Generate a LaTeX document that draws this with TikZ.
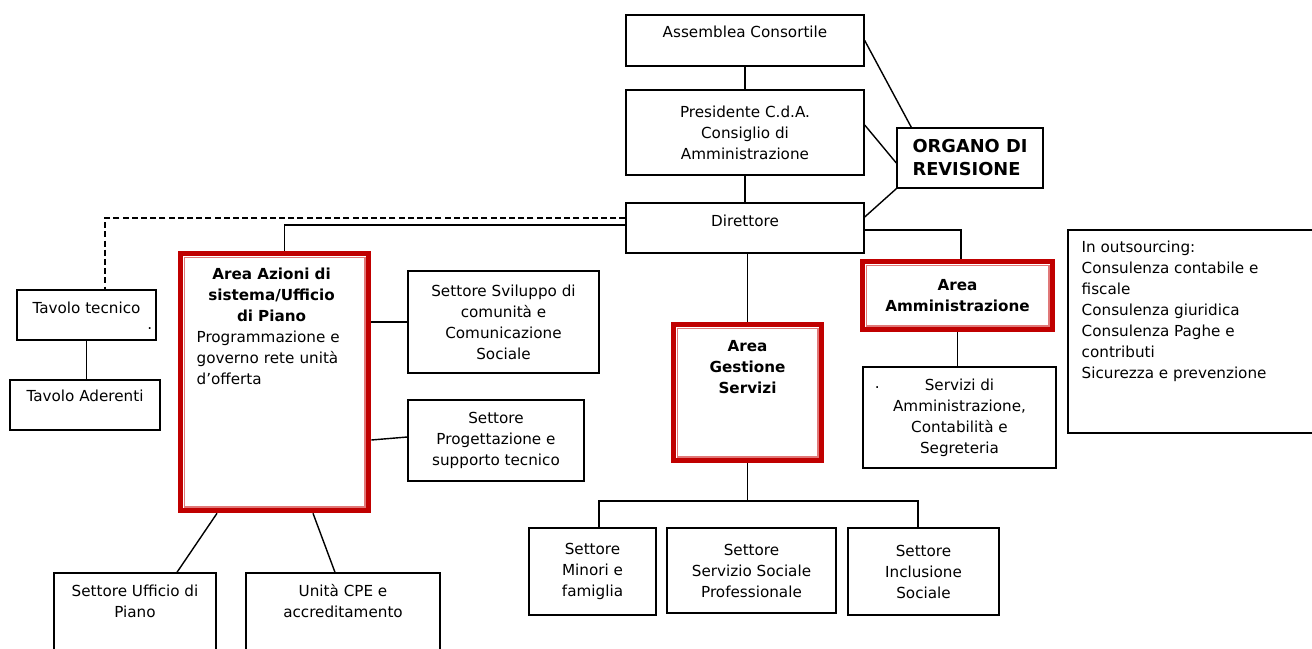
\documentclass[tikz,border=0pt]{standalone}
\usepackage{fontspec}
\setmainfont{DejaVu Sans}
\definecolor{areared}{RGB}{192,0,0}
\definecolor{arealight}{RGB}{225,120,120}
\usetikzlibrary{positioning,backgrounds}

\begin{document}
\begin{tikzpicture}[x=0.5pt,y=-0.5pt,
    box/.style={draw,line width=0.7pt,fill=white,inner sep=0pt,
                font=\fontsize{7.6}{10.5}\selectfont,align=center},
    area/.style={draw=areared,line width=2.8pt,fill=white,inner sep=0pt,
                 font=\fontsize{7.6}{10.5}\selectfont\bfseries,align=center},
    arealine/.style={draw=arealight,line width=0.6pt},
    txt/.style={inner sep=0pt,font=\fontsize{7.6}{10.5}\selectfont,align=center},
    link/.style={line width=0.7pt},
    dashlink/.style={line width=0.7pt,dash pattern=on 3pt off 1.6pt}]
  \useasboundingbox (0,0) rectangle (1312,648);

  \node[box,minimum width=119pt,minimum height=25.5pt] (ass) at (745,40.5) {};
  \node[txt,below=5.5pt of ass.north] (ass-t) {Assemblea Consortile};
  \node[box,minimum width=119pt,minimum height=42.5pt] (pres) at (745,132.5)
    {Presidente C.d.A.\\Consiglio di\\Amministrazione};
  \node[box,minimum width=73pt,minimum height=30pt,align=left,
        font=\fontsize{8.9}{11.5}\selectfont\bfseries] (org) at (970,158) {ORGANO DI\\REVISIONE};
  \node[box,minimum width=119pt,minimum height=25pt] (dir) at (745,228) {};
  \node[txt,below=6pt of dir.north] (dir-t) {Direttore};

  \node[box,minimum width=69.5pt,minimum height=25pt] (tt) at (86.5,315) {};
  \node[txt,below=6pt of tt.north] (tt-t) {Tavolo tecnico};
  \node[txt] (tt-d) at ([shift={(-3.5pt,6pt)}]tt.south east) {.};
  \node[box,minimum width=75pt,minimum height=25pt] (ta) at (85,405) {};
  \node[txt,below=5pt of ta.north] (ta-t) {Tavolo Aderenti};

  \node[area,minimum width=94pt,minimum height=128.5pt] (aa) at (274.5,382) {};
  \node[txt,text width=75pt,align=left,anchor=north west] (aa-t)
    at ([shift={(9.25pt,-8.25pt)}]aa.north west)
    {{\centering\bfseries Area Azioni di\\sistema/Ufficio\\di Piano\par}Programmazione e\\governo rete unità\\d'offerta};
  \node[box,minimum width=95.5pt,minimum height=51pt] (ssv) at (503.5,322)
    {Settore Sviluppo di\\comunità e\\Comunicazione\\Sociale};
  \node[box,minimum width=88pt,minimum height=40.5pt] (spr) at (496,440.5)
    {Settore\\Progettazione e\\supporto tecnico};
  \node[box,minimum width=81pt,minimum height=63.5pt] (suf) at (135,636.5) {};
  \node[txt,below=6pt of suf.north] (suf-t) {Settore Ufficio di\\Piano};
  \node[box,minimum width=97pt,minimum height=63.5pt] (cpe) at (343,636.5) {};
  \node[txt,below=6pt of cpe.north] (cpe-t) {Unità CPE e\\accreditamento};

  \node[area,minimum width=74pt,minimum height=68pt] (ag) at (747.5,392.5) {};
  \node[txt,font=\fontsize{7.6}{10.5}\selectfont\bfseries,below=9.25pt of ag.north] (ag-t)
    {Area\\Gestione\\Servizi};
  \node[box,minimum width=63.5pt,minimum height=43.5pt] (smf) at (592.5,571.5)
    {Settore\\Minori e\\famiglia};
  \node[box,minimum width=84.5pt,minimum height=42.5pt] (sss) at (751.5,570.5)
    {Settore\\Servizio Sociale\\Professionale};
  \node[box,minimum width=75.5pt,minimum height=43.5pt] (sis) at (923.5,571.5)
    {Settore\\Inclusione\\Sociale};

  \node[area,minimum width=95pt,minimum height=34pt] (am) at (957.5,295.5)
    {Area\\Amministrazione};
  \node[box,minimum width=96.5pt,minimum height=50.5pt] (sam) at (959.5,417.5)
    {Servizi di\\Amministrazione,\\Contabilità e\\Segreteria};
  \node[txt] (sam-d) at ([shift={(7.5pt,-10.5pt)}]sam.north west) {.};
  \node[box,minimum width=126pt,minimum height=101.5pt] (out) at (1194,331.5) {};
  \node[txt,align=left,anchor=north west] (out-t) at ([shift={(7pt,-5.5pt)}]out.north west)
    {In outsourcing:\\Consulenza contabile e\\fiscale\\Consulenza giuridica\\Consulenza Paghe e\\contributi\\Sicurezza e prevenzione};

  \foreach \n in {aa,ag,am}
    \draw[arealine] ([shift={(3.2pt,-3.2pt)}]\n.north west) rectangle ([shift={(-3.2pt,3.2pt)}]\n.south east);

  \begin{scope}[on background layer]
    \draw[link] (ass) -- (pres);
    \draw[link] (pres) -- (dir);
    \draw[link] (ass.east) -- ([xshift=7.5pt]org.north west);
    \draw[link] ([yshift=3.75pt]pres.east) -- ([yshift=-2.5pt]org.west);
    \draw[link] ([yshift=5.5pt]dir.east) -- (org.south west);
    \draw[dashlink] ([yshift=5pt]dir.west) -| ([xshift=9.25pt]tt.north);
    \draw[link] ([yshift=1.5pt]dir.west) -| ([xshift=5pt]aa.north);
    \draw[link] (ag.north |- dir.south) -- (ag.north);
    \draw[link] ([yshift=-1pt]dir.east) -| ([xshift=1.75pt]am.north);
    \draw[link] (am.south) -- (am.south |- sam.north);
    \draw[link] (tt.south) -- (tt.south |- ta.north);
    \draw[link] (aa.east |- ssv.west) -- (ssv.west);
    \draw[link] ([yshift=-29pt]aa.east) -- ([yshift=1.75pt]spr.west);
    \draw[link] ([xshift=-28.75pt]aa.south) -- ([xshift=21pt]suf.north);
    \draw[link] ([xshift=19.25pt]aa.south) -- ([xshift=-4pt]cpe.north);
    \coordinate (gbus) at ([yshift=-18.75pt]ag.south);
    \draw[link] (ag.south) -- (gbus);
    \draw[link] ([xshift=3.25pt]smf.north) |- (gbus) -| ([xshift=-2.75pt]sis.north);
  \end{scope}
\end{tikzpicture}
\end{document}
